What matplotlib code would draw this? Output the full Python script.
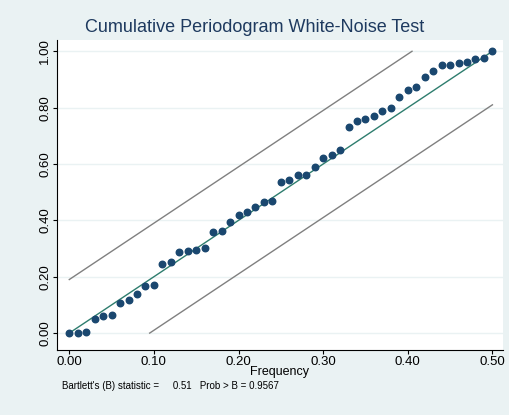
import numpy as np
import matplotlib.pyplot as plt

plt.rcParams['font.family'] = ['Liberation Sans', 'DejaVu Sans']

freq = np.round(np.arange(0, 0.501, 0.01), 2)
cum = [0, 0, 0.004, 0.049, 0.062, 0.064, 0.107, 0.118, 0.140, 0.166, 0.169,
       0.244, 0.251, 0.286, 0.293, 0.295, 0.302, 0.360, 0.364, 0.394, 0.418,
       0.430, 0.447, 0.464, 0.469, 0.537, 0.542, 0.560, 0.561, 0.589, 0.622,
       0.632, 0.651, 0.730, 0.751, 0.760, 0.770, 0.789, 0.800, 0.837, 0.864,
       0.875, 0.908, 0.929, 0.950, 0.952, 0.959, 0.963, 0.974, 0.976, 1.0]
band = 0.19
ticks = [0, 0.1, 0.2, 0.3, 0.4, 0.5]
ylabels = [0, 0.2, 0.4, 0.6, 0.8, 1.0]

bg = '#eaf2f3'
fig = plt.figure(figsize=(5.10, 4.15), dpi=100)
fig.patch.set_facecolor(bg)
ax = fig.add_axes([57/510, 1 - 350/415, 446/510, 310/415])

ax.plot([0, 0.5], [0, 1], color='#2e7d6e', lw=1, zorder=2)
ax.plot([0, (1 - band) / 2], [band, 1], color='#808080', lw=1)
ax.plot([band / 2, 0.5], [0, 1 - band], color='#808080', lw=1)
ax.scatter(freq, cum, s=22, color='#1a476f', zorder=3)

ax.set_xlim(-0.0145, 0.5125)
ax.set_ylim(-0.06, 1.04)
ax.set_xticks(ticks)
ax.set_xticklabels([f'{t:.2f}' for t in ticks], fontsize=9.5)
ax.set_yticks(ylabels)
ax.set_yticklabels([f'{t:.2f}' for t in ylabels], fontsize=9.5, rotation=90, va='center')
ax.tick_params(length=3, pad=1)
ax.yaxis.grid(True, color=bg, lw=1)
ax.set_axisbelow(True)
for k in ['top', 'right']:
    ax.spines[k].set_visible(False)
ax.set_xlabel('Frequency', fontsize=9, labelpad=-1)
fig.text(0.5, 1 - 27/415, 'Cumulative Periodogram White-Noise Test',
         ha='center', va='center', fontsize=13, color='#1e3a5f')
fig.text(62/510, 1 - 386/415, "Bartlett's (B) statistic =     0.51   Prob > B = 0.9567",
         fontsize=7, va='center')

fig.savefig('out.png', dpi=100, facecolor=bg)
